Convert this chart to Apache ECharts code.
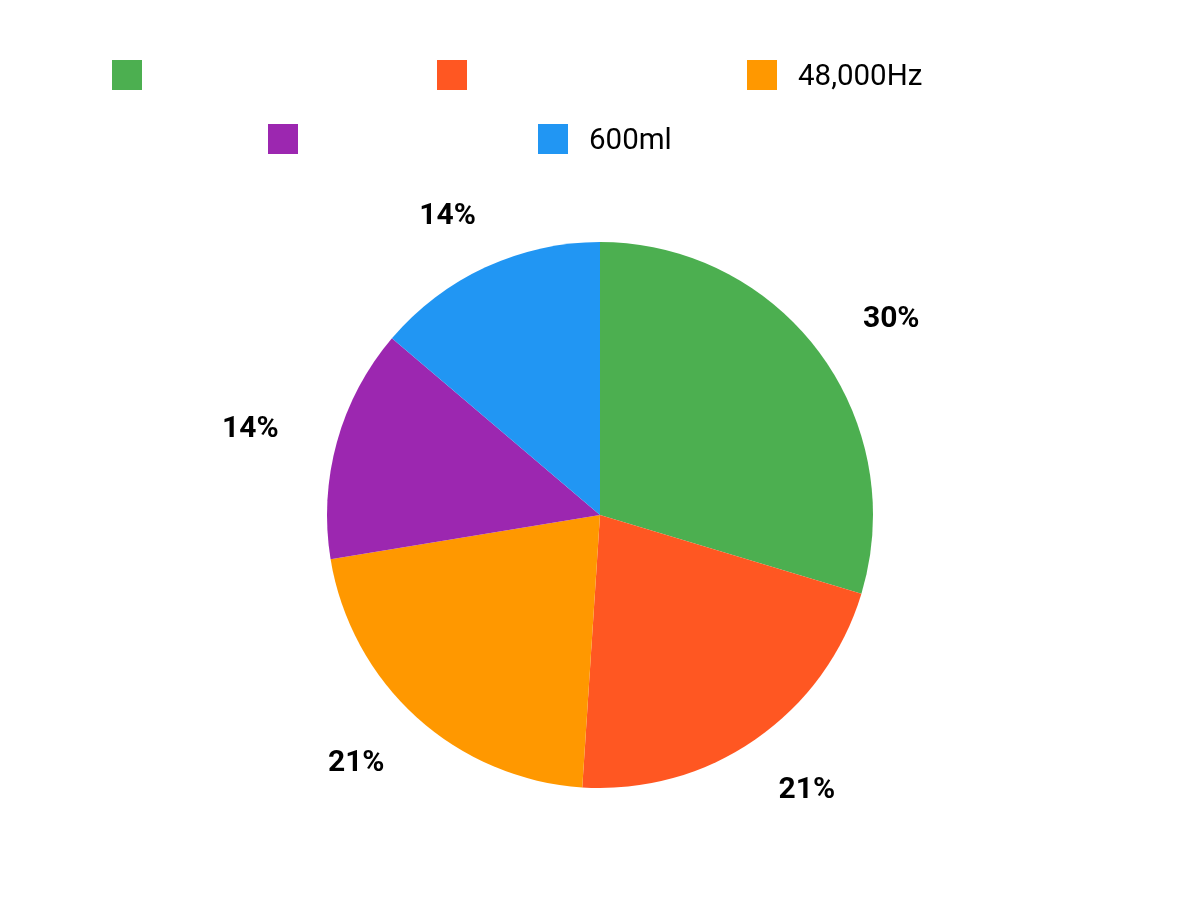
<!DOCTYPE html>
<html>
<head>
<meta charset="utf-8">
<script src="https://cdn.jsdelivr.net/npm/echarts@6/dist/echarts.min.js"></script>
<style>html,body{margin:0;padding:0;background:#fff}#c{width:1200px;height:900px}</style>
</head>
<body>
<div id="c"></div>
<script>
// Data
const labels = ['', '', '48,000Hz', '', '600ml'];
const values = [43, 31, 31, 20, 20];
const colors = ['#4CAF50', '#FF5722', '#FF9800', '#9C27B0', '#2196F3'];
const keys = ['s0', 's1', 's2', 's3', 's4'];

// layout only
const legendPos = [[112, 60], [437, 60], [747, 60], [268, 124], [538, 124]];
const CX = 600, CY = 515;
const LABEL_X_STRETCH = 1.093;
const LABEL_Y_SHIFT = 3;

const data = keys.map((k, i) => ({ name: k, value: values[i], itemStyle: { color: colors[i] } }));

const chart = echarts.init(document.getElementById('c'));
chart.setOption({
  backgroundColor: '#fff',
  animation: false,
  legend: keys.map((k, i) => ({
    data: [k],
    left: legendPos[i][0],
    top: legendPos[i][1],
    padding: 0,
    icon: 'rect',
    itemWidth: 30,
    itemHeight: 30,
    itemStyle: { borderWidth: 0 },
    formatter: () => '{t|' + labels[i] + '}',
    textStyle: {
      fontFamily: 'Roboto', fontSize: 29.5, color: '#000', padding: [0, 0, 0, 16],
      rich: { t: { fontFamily: 'Roboto', fontSize: 29.5, color: '#000', padding: [6, 0, 0, 0] } }
    },
    selectedMode: false
  })),
  series: [
    {
      type: 'pie',
      center: [CX, CY],
      radius: 273,
      startAngle: 90,
      clockwise: true,
      data: data,
      label: { show: false },
      labelLine: { show: false },
      emphasis: { disabled: true },
      silent: true
    },
    {
      type: 'pie',
      center: [CX, CY],
      radius: [280, 378],
      startAngle: 90,
      clockwise: true,
      percentPrecision: 0,
      data: data.map(d => ({ name: d.name, value: d.value, itemStyle: { color: 'rgba(0,0,0,0)' } })),
      label: {
        show: true,
        position: 'inside',
        formatter: '{d}%',
        fontFamily: 'Roboto',
        fontWeight: 'bold',
        fontSize: 30,
        color: '#000'
      },
      labelLayout: function (p) {
        const r = p.labelRect;
        const mx = r.x + r.width / 2, my = r.y + r.height / 2;
        return { x: CX + (mx - CX) * LABEL_X_STRETCH, y: my + LABEL_Y_SHIFT, align: 'center', verticalAlign: 'middle' };
      },
      labelLine: { show: false },
      emphasis: { disabled: true },
      silent: true
    }
  ]
});
</script>
</body>
</html>
